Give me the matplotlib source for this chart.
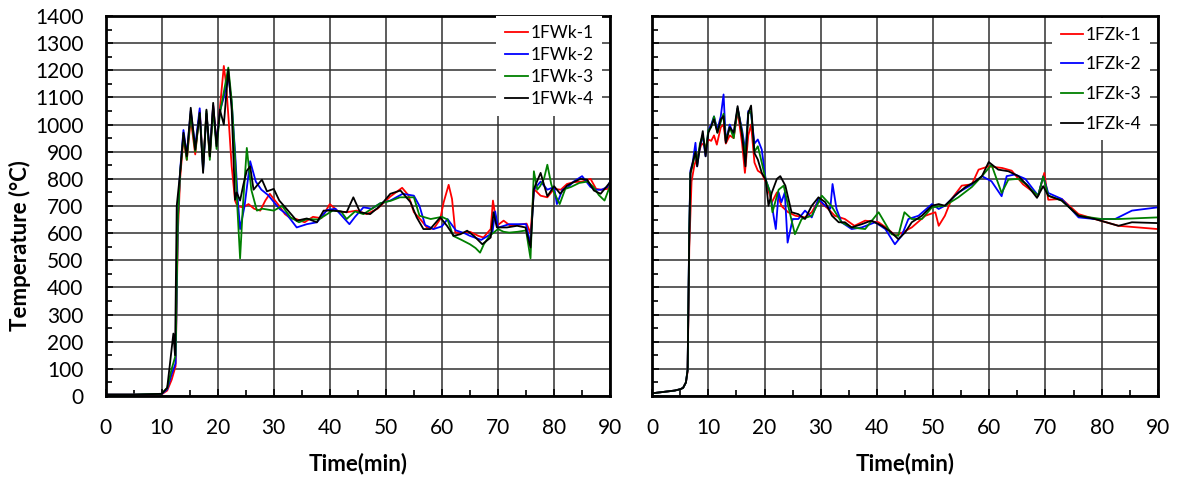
import matplotlib
matplotlib.use("Agg")
import matplotlib.pyplot as plt
from matplotlib.ticker import MultipleLocator

plt.rcParams['font.family'] = ['Lato', 'DejaVu Sans']

# ---------------- Left panel (1FWk) ----------------
fw1_t = [0,5,10,11,11.8,12.5,12.9,13.3,13.9,14.5,15.2,16,16.8,17.4,18,18.6,19.2,19.8,20.4,21.1,21.5,22,22.5,23.1,23.5,24.5,25.5,26.5,27.6,28.5,29.3,30,31,32,33,34,35.5,37,38.5,40,41.5,43,44.8,46.6,48.5,50.8,52.9,54,55,56.2,57.3,58.5,59.7,60.3,61.2,61.8,62.4,63.5,65,66.5,67.4,68.7,69.1,69.8,71,72.2,73.5,75.1,75.8,76.4,77.6,78.8,80,81.2,82.3,83.5,85,86.5,87.5,88.3,89.5,90]
fw1_T = [5,5,6,20,60,110,600,800,950,870,1020,890,1050,850,1040,880,1070,930,1060,1216,1150,1006,846,720,700,695,707,690,683,720,745,726,700,670,655,652,640,660,655,707,680,677,683,670,690,735,767,740,677,650,621,615,652,713,778,726,602,600,605,590,584,615,720,627,646,627,630,635,600,763,738,732,763,760,781,788,790,800,763,760,763,781]

fw2_t = [0,5,10,11,11.8,12.5,12.9,13.3,13.9,14.5,15.2,16,16.8,17.4,18,18.6,19.2,19.8,20.4,21.1,21.9,22.5,23.1,23.6,24,24.8,25.8,26.8,27.8,29,30,31,32.3,34.1,35.9,37.7,39.5,41,43.5,44.5,46,47.5,49,50.8,53,55,56,57,58.5,60,61,62.5,64,65,67,69,69.5,70,72,73.5,75,75.8,76.4,77.6,78.8,80,80.5,81.5,82.5,83.5,85,86.5,87.5,88.5,89.5,90]
fw2_T = [5,5,7,25,80,120,650,830,980,890,1050,920,1060,830,1040,900,1070,930,1050,1100,1180,1080,900,720,615,700,865,790,760,740,715,690,670,621,633,640,685,690,633,660,695,690,710,720,745,738,700,630,615,625,652,610,600,590,575,600,680,620,633,633,633,560,760,790,760,770,707,760,770,790,810,770,760,760,770,790]

fw3_t = [0,5,10,11,11.8,12.5,12.9,13.3,13.9,14.5,15.2,16,16.8,17.4,18,18.6,19.2,19.8,20.4,21.1,21.9,22.5,23.1,23.5,24,24.5,25.2,26,27,28,30,31.5,33,34.5,36,38,40.5,42,43,44.5,46,47.5,49,51,52.5,54,55,56,58,60,61,62,63.5,65,66,66.8,67.5,68.5,70,71,72,73.5,75,75.8,76.4,77,77.5,78.2,78.8,79.5,80,81,82,83,84.5,86,87,88,89,90]
fw3_T = [5,5,8,30,100,150,650,820,960,870,1040,900,1040,840,1050,870,1060,910,1040,1120,1210,1090,880,700,507,700,914,760,683,690,683,700,658,640,652,650,683,680,652,680,670,690,710,720,732,732,732,664,652,660,650,590,575,559,545,528,560,590,615,605,602,605,610,507,828,760,773,800,852,780,750,707,763,770,785,790,770,740,720,775]

fw4_t = [0,5,10,11,11.5,12.1,12.4,12.7,13.3,13.9,14.5,15.2,16,16.8,17.4,18,18.6,19.2,19.8,20.4,21.1,21.9,22.5,23.1,23.4,24,24.6,25.2,25.8,26.4,27.2,27.9,28.8,30,31,32.3,34.1,35.9,37.7,38.9,40.7,43,44.2,45.4,47.2,49,50.8,52.6,54.4,55.5,56.7,57.9,59.7,60.9,62.1,63.3,64.5,65.7,67.2,68.7,69.2,69.8,71.6,73.4,74.9,75.8,76.4,77.6,78.8,80,81.1,82.3,83.5,84.7,85.9,87.1,88.3,89.5,90]
fw4_T = [5,5,8,30,120,230,150,700,822,970,883,1062,908,1043,822,1055,883,1080,920,1055,1000,1203,1055,723,750,720,780,830,846,760,780,797,754,763,720,689,646,654,640,683,683,677,732,677,670,701,745,757,714,658,615,615,658,627,590,596,609,590,559,584,677,621,621,627,621,547,763,822,736,773,745,775,788,800,797,757,745,775,788]

# ---------------- Right panel (1FZk) ----------------
fz1_t = [0,2,4,5,5.5,6,6.3,6.6,7,7.5,8,8.8,9.5,10,10.5,11,11.5,12.2,12.7,13.1,13.8,14.5,15.2,16,16.5,17.1,17.6,18.2,18.8,19.5,20.2,21.3,22.2,23,24.2,25.5,27.2,28.4,29.6,31.3,32.5,34.3,36,37.9,40.3,42,43.3,44.5,46.2,48.6,50.4,51,52.1,53.3,55.1,56.9,58.1,59.9,62.3,64,66,68.7,69.8,70.5,72.9,75.9,78.8,83,90]
fz1_T = [10,15,20,25,30,50,90,550,790,850,880,930,920,945,940,960,926,990,1000,930,960,950,1050,930,822,960,1000,860,830,820,790,714,750,700,677,664,658,677,720,690,664,652,627,646,640,615,590,602,621,664,677,627,664,726,775,780,834,846,840,830,780,738,822,723,726,670,652,627,615]

fz2_t = [0,2,4,5,5.5,6,6.3,6.6,6.8,7.2,7.7,8,8.5,9,9.5,10,10.5,11,11.6,12.2,12.7,13.1,13.8,14.5,15.2,16,16.6,17.1,17.6,18.2,18.8,19.5,20.2,21,21.6,22,22.5,23,23.6,24.1,25,26,27.2,28.4,29.6,30.8,31.7,32.1,32.8,33.7,35.5,37.3,39.7,41.5,43.2,44.4,45.6,47.4,49.8,51,52.1,54.5,56.9,58.7,60.4,62.2,63.1,64.6,66.4,68.7,69.6,70.5,72.9,75.9,78.8,82.4,85.4,90]
fz2_T = [10,15,20,25,30,50,96,620,830,860,933,846,920,960,883,980,1000,1030,980,1030,1111,940,1000,960,1060,980,900,1050,1040,930,945,908,797,750,664,615,750,714,750,565,652,652,683,658,726,701,690,781,690,640,615,621,640,615,559,590,652,664,707,689,701,750,779,810,791,736,810,816,800,738,809,748,726,658,652,652,683,695]

fz3_t = [0,2,4,5,5.5,6,6.3,6.6,6.8,7.2,7.7,8,8.5,9,9.5,10,10.5,11,11.6,12.2,12.7,13.1,13.8,14.5,15.2,16,16.6,17.1,17.6,18.2,18.8,19.5,20.2,21,21.4,22.5,23.4,24.2,25.4,26.6,28.4,30.2,31.9,33.7,35.5,37.9,40.3,42.6,43.8,44.9,46.2,48,49.8,52.1,54.5,56.9,58.7,60.4,62.2,63.4,65.2,66.6,67.5,68.7,69.6,70.5,72.9,75.9,80,83,90]
fz3_T = [10,15,20,25,30,50,96,610,820,850,900,860,930,960,900,980,990,1030,970,1010,1040,940,990,950,1060,970,880,1040,1050,900,920,860,797,750,677,760,775,700,596,652,664,738,700,640,621,615,677,596,590,677,652,652,695,701,732,770,810,852,748,797,800,780,760,738,809,738,720,664,652,652,658]

fz4_t = [0,2,4,5,5.5,6,6.3,6.6,6.8,7.2,7.7,8,8.5,9,9.5,10,10.5,11,11.6,12.2,12.7,13.1,13.8,14.5,15.2,16,16.6,17.1,17.6,18.2,18.8,19.5,20.2,20.7,21.3,22.2,22.8,23.7,24.8,26,27.2,28.4,29.6,30.8,32,33.2,34.3,35.5,37.3,39,40.9,42.6,43.8,45,46.2,48,49.8,51,52.1,53.9,55.7,57.5,58.7,59.9,61.6,63.4,65.2,66.9,68.5,69.6,70.5,72.9,75.9,78.8,83,85.4,90]
fz4_T = [10,15,20,25,30,50,96,600,822,859,900,846,920,976,883,970,994,1019,970,1019,1031,933,990,970,1068,960,846,1043,1070,895,871,822,797,701,750,800,810,775,677,670,652,701,732,714,664,640,640,621,633,646,627,602,578,602,640,664,701,707,701,738,769,790,810,862,834,828,810,773,730,773,738,720,664,652,627,640,637]

left_labels = ['1FWk-1', '1FWk-2', '1FWk-3', '1FWk-4']
right_labels = ['1FZk-1', '1FZk-2', '1FZk-3', '1FZk-4']
colors = ['#ff0000', '#0000ff', '#008000', '#000000']

x_ticks = list(range(0, 91, 10))
y_ticks = list(range(0, 1401, 100))

fig = plt.figure(figsize=(11.79, 4.79), dpi=100)
axL = fig.add_axes([0.0895, 0.1733, 0.428, 0.7933])
axR = fig.add_axes([0.5532, 0.1733, 0.4288, 0.7933])

def style(ax, show_ylabels):
    ax.set_xlim(0, 90)
    ax.set_ylim(0, 1400)
    ax.set_xticks(x_ticks)
    ax.set_yticks(y_ticks)
    ax.xaxis.set_minor_locator(MultipleLocator(5))
    ax.yaxis.set_minor_locator(MultipleLocator(50))
    ax.grid(True, which='major', color='#303030', linewidth=1.1)
    ax.set_axisbelow(True)
    ax.tick_params(which='both', direction='in', top=False, right=False)
    ax.tick_params(which='major', length=5, width=1.2, labelsize=15)
    ax.tick_params(axis='x', which='major', pad=16)
    ax.tick_params(axis='y', which='major', pad=16)
    ax.tick_params(which='minor', length=4, width=1.2)
    for s in ax.spines.values():
        s.set_linewidth(2.0)
        s.set_color('black')
    if not show_ylabels:
        ax.set_yticklabels([])
    ax.set_xlabel('Time(min)', fontsize=16, fontweight='bold')
    ax.xaxis.set_label_coords(0.5, -0.148)

style(axL, True)
style(axR, False)
axL.set_ylabel('Temperature (\u00b0C)', fontsize=16, fontweight='bold')
axL.yaxis.set_label_coords(-0.148, 0.397)

for t, T, c, lab in zip([fw1_t, fw2_t, fw3_t, fw4_t], [fw1_T, fw2_T, fw3_T, fw4_T], colors, left_labels):
    axL.plot(t, T, color=c, linewidth=1.3, label=lab)
for t, T, c, lab in zip([fz1_t, fz2_t, fz3_t, fz4_t], [fz1_T, fz2_T, fz3_T, fz4_T], colors, right_labels):
    axR.plot(t, T, color=c, linewidth=1.3, label=lab)

legL = axL.legend(loc='upper right', bbox_to_anchor=(0.984, 1.0), fontsize=12.5,
                  frameon=True, fancybox=False, edgecolor='none', facecolor='white',
                  framealpha=1, handlelength=1.3, handletextpad=0.15,
                  labelspacing=0.36, borderaxespad=0.0, borderpad=0.5)
legR = axR.legend(loc='upper right', bbox_to_anchor=(0.985, 0.995), fontsize=12.5,
                  frameon=True, fancybox=False, edgecolor='none', facecolor='white',
                  framealpha=1, handlelength=1.3, handletextpad=0.15,
                  labelspacing=0.79, borderaxespad=0.0, borderpad=0.5)

fig.savefig('out.png', dpi=100)
